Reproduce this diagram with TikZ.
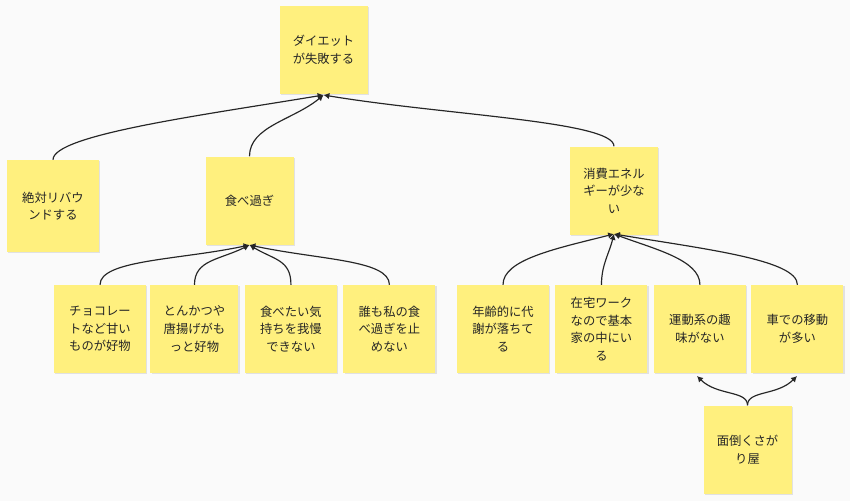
\documentclass[tikz,border=0pt]{standalone}
\usepackage{fontspec}
\newfontfamily\jpfont{Noto Sans CJK JP}
\usetikzlibrary{positioning,arrows.meta,shadows}
\begin{document}
\begin{tikzpicture}[x=0.03cm,y=-0.03cm,
    note/.style={fill=noteyellow, minimum width=2.64cm, minimum height=2.64cm,
        align=center, font=\jpfont\fontsize{10.5}{15}\selectfont, text=black!85,
        drop shadow={opacity=0.2, shadow xshift=1.2pt, shadow yshift=-1.2pt}},
    link/.style={draw=black!85, line width=1pt, -{Latex[length=5pt,width=5.5pt]}}]
    \definecolor{noteyellow}{HTML}{FFF07E}
    \useasboundingbox[fill=black!2] (0,0) rectangle (850,501);

    \node [note] (goal) at (323.5,50) {ダイエット\\が失敗する};
    \node [note, minimum width=2.76cm, minimum height=2.76cm] (rebound) at (53,206) {絶対リバウ\\ンドする};
    \node [note] (overeat) at (249.5,200.5) {食べ過ぎ};
    \node [note] (lowburn) at (614,190.5) {消費エネル\\ギーが少な\\い};

    \node [note, minimum width=2.76cm] (choco) at (100,329) {チョコレー\\トなど甘い\\ものが好物};
    \node [note, right=0.12cm of choco] (tonkatsu) {とんかつや\\唐揚げがも\\っと好物};
    \node [note, minimum width=2.76cm, right=0.18cm of tonkatsu] (craving) {食べたい気\\持ちを我慢\\できない};
    \node [note, minimum width=2.76cm, right=0.18cm of craving] (nobody) {誰も私の食\\べ過ぎを止\\めない};

    \node [note, minimum width=2.76cm] (aging) at (503,329) {年齢的に代\\謝が落ちて\\る};
    \node [note, minimum width=2.76cm, right=0.18cm of aging] (wfh) {在宅ワーク\\なので基本\\家の中にい\\る};
    \node [note, minimum width=2.76cm, right=0.18cm of wfh] (nosport) {運動系の趣\\味がない};
    \node [note, minimum width=2.76cm, right=0.15cm of nosport] (car) {車での移動\\が多い};

    \node [note] (lazy) at (747.5,449.5) {面倒くさが\\り屋};

    % junction points
    \coordinate (goal_in) at (323.5,95);
    \coordinate (overeat_in) at (249.5,245);
    \coordinate (lowburn_in) at (614,234);
    \coordinate (nosport_in) at (697,376);
    \coordinate (car_in) at (797,376);

    \draw[link] (rebound.north) .. controls +(0,-25) and +(-120,20) .. (goal_in);
    \draw[link] (overeat.north) .. controls +(0,-30) and +(-30,25) .. (goal_in);
    \draw[link] (lowburn.north) .. controls +(0,-25) and +(120,20) .. (goal_in);

    \draw[link] (choco.north) .. controls +(0,-25) and +(-70,15) .. (overeat_in);
    \draw[link] (tonkatsu.north) .. controls +(0,-25) and +(-30,15) .. (overeat_in);
    \draw[link] (craving.north) .. controls +(0,-25) and +(25,15) .. (overeat_in);
    \draw[link] (nobody.north) .. controls +(0,-25) and +(70,15) .. (overeat_in);

    \draw[link] (aging.north) .. controls +(0,-25) and +(-60,15) .. (lowburn_in);
    \draw[link] (wfh.north) .. controls +(0,-20) and +(-5,20) .. (lowburn_in);
    \draw[link] (nosport.north) .. controls +(0,-25) and +(40,15) .. (lowburn_in);
    \draw[link] (car.north) .. controls +(0,-25) and +(90,15) .. (lowburn_in);

    \draw[link] (lazy.north) .. controls +(0,-15) and +(20,20) .. (nosport_in);
    \draw[link] (lazy.north) .. controls +(0,-15) and +(-20,20) .. (car_in);
\end{tikzpicture}
\end{document}
